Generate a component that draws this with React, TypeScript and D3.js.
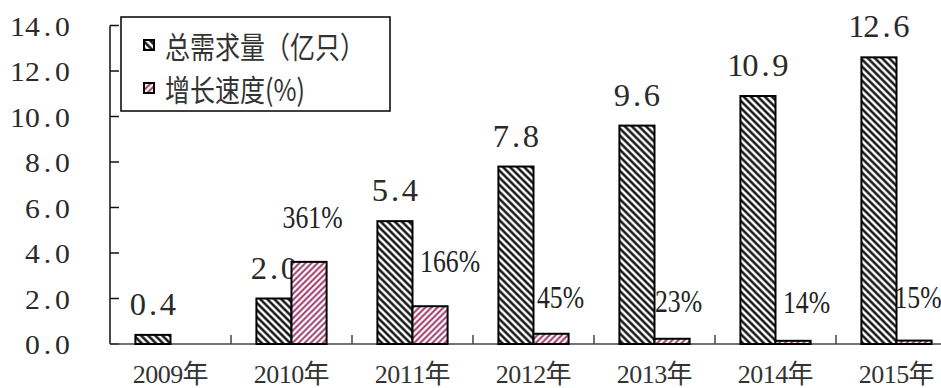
import React from 'react';
import * as d3 from 'd3';

const years = ['2009年', '2010年', '2011年', '2012年', '2013年', '2014年', '2015年'];
const totalDemand = [0.4, 2.0, 5.4, 7.8, 9.6, 10.9, 12.6];
const growthRate: (number | null)[] = [null, 361, 166, 45, 23, 14, 15];
const yTicks = [0, 2, 4, 6, 8, 10, 12, 14];
const legendLabels = ['总需求量（亿只）', '增长速度(%)'];
// manual nudges of the percentage labels (as placed in the original)
const pctLabelDx = [0, 3.5, 20, 9.5, 6.5, 13.5, 4];
const pctLabelGap = [0, 34, 34, 26, 27, 27.5, 32.5];

const W = 941;
const H = 388;
const SERIF = "'Liberation Serif', 'Noto Sans CJK SC', serif";
const CJK = "'Noto Sans CJK SC', sans-serif";

function units(c: string) {
  return c.charCodeAt(0) > 0x2e80 ? 2 : 1;
}

function MonoText(props: {
  x: number; y: number; text: string; cell: number; fontSize: number;
  sx?: number; sy?: number; anchor?: 'start' | 'middle' | 'end'; fill?: string; family?: string;
}) {
  const { x, y, text, cell, fontSize, sx = 1, sy = 1, anchor = 'middle', fill = '#222', family = SERIF } = props;
  const chars = Array.from(text);
  const total = chars.reduce((s, c) => s + units(c), 0) * cell;
  let start = anchor === 'middle' ? -total / 2 : anchor === 'end' ? -total : 0;
  const xs: number[] = [];
  for (const c of chars) {
    const w = units(c) * cell;
    xs.push((start + w / 2) / sx);
    start += w;
  }
  return (
    <text
      transform={`translate(${x},${y}) scale(${sx},${sy})`}
      x={xs.map((v) => v.toFixed(2)).join(' ')}
      y={0}
      textAnchor="middle"
      fontFamily={family}
      fontSize={fontSize}
      fill={fill}
    >
      {text}
    </text>
  );
}

export default function App() {
  const x = d3.scaleBand<string>().domain(years).range([110, 110 + 121 * years.length]).padding(0);
  const y = d3.scaleLinear().domain([0, 14]).range([344, 25.5]);
  const barW = x.bandwidth() * 0.29;
  const y0 = y(0);

  return (
    <svg width={W} height={H} style={{ position: 'absolute', left: 0, top: 0, background: '#fff' }}>
      <defs>
        <pattern id="hatchBlack" patternUnits="userSpaceOnUse" width={5} height={5} patternTransform="rotate(-45)">
          <rect width={5} height={5} fill="#fff" />
          <line x1={2.5} y1={-1} x2={2.5} y2={6} stroke="#000" strokeWidth={2.3} />
        </pattern>
        <pattern id="hatchPink" patternUnits="userSpaceOnUse" width={4.3} height={4.3} patternTransform="rotate(45)">
          <rect width={4.3} height={4.3} fill="#fff" />
          <line x1={2.15} y1={-1} x2={2.15} y2={5.3} stroke="#993366" strokeWidth={1.9} />
        </pattern>
      </defs>
      <rect width={W} height={H} fill="#fff" />

      {/* y axis */}
      <line x1={110} y1={y(14)} x2={110} y2={y0} stroke="#111" strokeWidth={1.5} />
      {yTicks.map((t) => (
        <g key={t}>
          <line x1={110} x2={119} y1={y(t)} y2={y(t)} stroke="#111" strokeWidth={1.5} />
          <MonoText x={70} y={y(t) + 10} text={t.toFixed(1)} cell={15} fontSize={27} sx={1.1} anchor="end" fill="#2a2a2a" />
        </g>
      ))}

      {/* x axis */}
      <line x1={110} y1={y0} x2={W} y2={y0} stroke="#444" strokeWidth={1.5} />
      {years.slice(1).map((yr) => (
        <line key={yr} x1={x(yr)!} x2={x(yr)!} y1={y0} y2={y0 - 9} stroke="#444" strokeWidth={1.5} />
      ))}
      {years.map((yr) => (
        <MonoText key={yr} x={x(yr)! + x.bandwidth() / 2} y={383} text={yr} cell={12.5} fontSize={26} fill="#333" />
      ))}

      {/* total demand bars */}
      {totalDemand.map((v, i) => {
        const cx = x(years[i])! + x.bandwidth() / 2;
        return (
          <rect key={'t' + i} x={cx - barW} y={y(v)} width={barW} height={y0 - y(v)}
            fill="url(#hatchBlack)" stroke="#000" strokeWidth={2} />
        );
      })}
      {totalDemand.map((v, i) => {
        const cx = x(years[i])! + x.bandwidth() / 2;
        return (
          <MonoText key={'tl' + i} x={cx - barW / 2} y={y(v) - 20} text={v.toFixed(1)} cell={15} fontSize={31} sx={1.05} fill="#2a2a2a" />
        );
      })}

      {/* growth bars */}
      {growthRate.map((g, i) => {
        if (g == null) return null;
        const cx = x(years[i])! + x.bandwidth() / 2;
        const v = g / 100;
        return (
          <rect key={'g' + i} x={cx} y={y(v)} width={barW} height={y0 - y(v)}
            fill="url(#hatchPink)" stroke="#000" strokeWidth={2} />
        );
      })}
      {growthRate.map((g, i) => {
        if (g == null) return null;
        const cx = x(years[i])! + x.bandwidth() / 2 + barW / 2 + pctLabelDx[i];
        const by = y(g / 100) - pctLabelGap[i];
        return (
          <text key={'gl' + i} transform={`translate(${cx},${by}) scale(0.83,1)`} textAnchor="middle"
            fontFamily={SERIF} fontSize={31} fill="#222">
            {g + '%'}
          </text>
        );
      })}

      {/* legend */}
      <rect x={121} y={17} width={269} height={94} fill="#fff" stroke="#000" strokeWidth={1.5} />
      {legendLabels.map((lab, i) => {
        const cy = 45 + i * 43;
        return (
          <g key={lab}>
            <rect x={144} y={cy - 5} width={10} height={10} fill={i === 0 ? 'url(#hatchBlack)' : 'url(#hatchPink)'}
              stroke="#000" strokeWidth={2} />
            <text transform={`translate(165,${cy}) scale(1,1.2)`} dominantBaseline="central" fontFamily={CJK}
              fontSize={25} fill="#333">
              {lab}
            </text>
          </g>
        );
      })}
    </svg>
  );
}
